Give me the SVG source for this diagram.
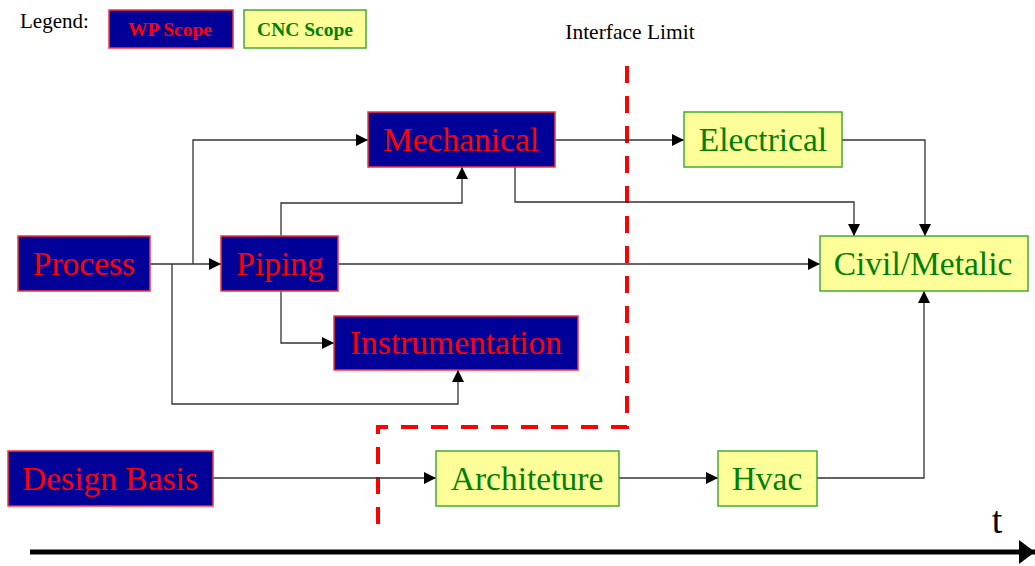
<svg xmlns="http://www.w3.org/2000/svg" width="1035" height="566" viewBox="0 0 1035 566">
<style>
.wp{fill:#000099;stroke:#ff3333;stroke-width:1.5}
.cnc{fill:#ffff99;stroke:#44aa33;stroke-width:1.5}
.wpt{fill:#ff0000;font-family:"Liberation Serif",serif;font-size:33.5px;text-anchor:middle}
.cnct{fill:#008000;font-family:"Liberation Serif",serif;font-size:33.5px;text-anchor:middle}
.lg{font-family:"Liberation Serif",serif;font-size:19.5px;font-weight:bold;text-anchor:middle}
.c{fill:none;stroke:#333;stroke-width:1.3}
</style>
<defs>
<marker id="ah" viewBox="0 0 12 12" refX="12" refY="6" markerWidth="12" markerHeight="12" markerUnits="userSpaceOnUse" orient="auto">
<path d="M0,0 L12,6 L0,12 Z" fill="#000"/>
</marker>
<marker id="big" viewBox="0 0 16 24" refX="16" refY="12" markerWidth="16" markerHeight="24" markerUnits="userSpaceOnUse" orient="auto">
<path d="M0,0 L16,12 L0,24 Z" fill="#000"/>
</marker>
</defs>
<rect width="1035" height="566" fill="#fff"/>
<g id="legend">
<text x="20" y="28" font-family="Liberation Serif,serif" font-size="21" fill="#000">Legend:</text>
<rect x="109" y="10" width="124" height="38" class="wp"/>
<text x="170" y="36" class="lg" fill="#ff0000">WP Scope</text>
<rect x="244" y="10" width="122" height="38" class="cnc"/>
<text x="305" y="36" class="lg" fill="#008000">CNC Scope</text>
</g>
<g id="interface-limit">
<text x="630" y="39" font-family="Liberation Serif,serif" font-size="21.5" fill="#000" text-anchor="middle">Interface Limit</text>
<path d="M627,66 V427 H378 V532" fill="none" stroke="#ff0000" stroke-width="4" stroke-dasharray="17,13"/>
</g>
<g id="connectors">
<path class="c" d="M150,264 H221" marker-end="url(#ah)"/>
<path class="c" d="M193,264 V140 H368" marker-end="url(#ah)"/>
<path class="c" d="M172,264 V404 H458 V370" marker-end="url(#ah)"/>
<path class="c" d="M281,236 V203 H462 V167" marker-end="url(#ah)"/>
<path class="c" d="M281,291 V343 H334" marker-end="url(#ah)"/>
<path class="c" d="M338,264 H820" marker-end="url(#ah)"/>
<path class="c" d="M555,140 H684" marker-end="url(#ah)"/>
<path class="c" d="M515,167 V202 H854 V236" marker-end="url(#ah)"/>
<path class="c" d="M842,140 H925 V236" marker-end="url(#ah)"/>
<path class="c" d="M213,478 H436" marker-end="url(#ah)"/>
<path class="c" d="M619,478 H718" marker-end="url(#ah)"/>
<path class="c" d="M817,478 H924 V291" marker-end="url(#ah)"/>
</g>
<g id="mechanical"><rect x="368" y="112" width="187" height="55" class="wp"/><text x="461" y="151" class="wpt">Mechanical</text></g>
<g id="electrical"><rect x="684" y="112" width="158" height="55" class="cnc"/><text x="763" y="151" class="cnct">Electrical</text></g>
<g id="process"><rect x="18" y="236" width="132" height="55" class="wp"/><text x="84" y="275" class="wpt">Process</text></g>
<g id="piping"><rect x="221" y="236" width="117" height="55" class="wp"/><text x="280" y="275" class="wpt">Piping</text></g>
<g id="civil-metalic"><rect x="820" y="236" width="208" height="55" class="cnc"/><text x="923" y="275" class="cnct">Civil/Metalic</text></g>
<g id="instrumentation"><rect x="334" y="316" width="244" height="54" class="wp"/><text x="456" y="354" class="wpt">Instrumentation</text></g>
<g id="design-basis"><rect x="8" y="451" width="205" height="55" class="wp"/><text x="110" y="490" class="wpt">Design Basis</text></g>
<g id="architeture"><rect x="436" y="451" width="183" height="55" class="cnc"/><text x="527" y="490" class="cnct">Architeture</text></g>
<g id="hvac"><rect x="718" y="451" width="99" height="55" class="cnc"/><text x="767" y="490" class="cnct">Hvac</text></g>
<g id="time-axis">
<path d="M30,552 H1035" stroke="#000" stroke-width="5" fill="none" marker-end="url(#big)"/>
<text x="997" y="533" font-family="Liberation Serif,serif" font-size="38" fill="#000" text-anchor="middle">t</text>
</g>
</svg>
